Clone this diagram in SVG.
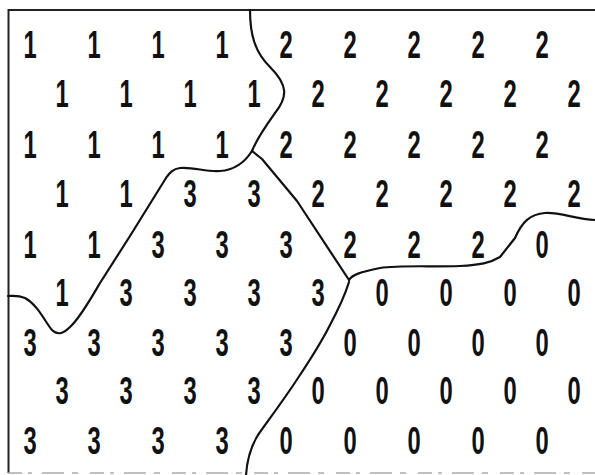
<svg xmlns="http://www.w3.org/2000/svg" width="595" height="475" viewBox="0 0 595 475">
<style>
.d{font-family:"Liberation Sans",Arial,sans-serif;font-weight:bold;font-size:38px;text-anchor:middle;fill:#111}
.b{fill:none;stroke:#111;stroke-width:2.2;stroke-linecap:round;stroke-linejoin:round}
.f{fill:none;stroke:#222;stroke-width:2}
</style>
<rect width="595" height="475" fill="#fff"/>
<g id="frame">
<path class="f" d="M8.5,473 L8.5,10 L595,10"/>
<path d="M8,473 L595,473" stroke="#aaa" stroke-width="1.5" stroke-dasharray="14 6 4 10 22 8 6 12"/>
</g>
<g id="boundaries">
<path class="b" d="M250,10 C250,35 255,52 270,67 C288,85 288,97 275,113 C265,127 257,138 252,151"/>
<path class="b" d="M252,151 C245,162 235,170 220,171 C205,172 195,167 180,168 C172,169 169,174 166,178 L130,236 L100,283 C90,300 80,318 70,327 C64,333 58,336 52,330 C45,322 38,305 25,298 C18,295 12,296 8,296"/>
<path class="b" d="M252,151 L262,159 L297,201 L349,280"/>
<path class="b" d="M349,280 C352,275 360,272 380,268 C400,265 430,267 460,266 C480,265 490,263 500,257 L515,238 C522,222 530,214 545,213 C560,212 575,219 595,220"/>
<path class="b" d="M349,282 C345,295 338,310 330,325 C320,345 310,360 298,378 C285,398 270,418 258,435 C250,448 247,460 246,475"/>
</g>
<g id="labels" transform="scale(0.625,1)">
<g id="row1">
<text class="d" x="48" y="58">1</text><text class="d" x="150.4" y="58">1</text><text class="d" x="252.8" y="58">1</text><text class="d" x="355.2" y="58">1</text><text class="d" x="457.6" y="58">2</text><text class="d" x="560" y="58">2</text><text class="d" x="662.4" y="58">2</text><text class="d" x="764.8" y="58">2</text><text class="d" x="867.2" y="58">2</text>
</g>
<g id="row2">
<text class="d" x="99.2" y="107">1</text><text class="d" x="201.6" y="107">1</text><text class="d" x="304" y="107">1</text><text class="d" x="406.4" y="107">1</text><text class="d" x="508.8" y="107">2</text><text class="d" x="611.2" y="107">2</text><text class="d" x="713.6" y="107">2</text><text class="d" x="816" y="107">2</text><text class="d" x="918.4" y="107">2</text>
</g>
<g id="row3">
<text class="d" x="48" y="158">1</text><text class="d" x="150.4" y="158">1</text><text class="d" x="252.8" y="158">1</text><text class="d" x="355.2" y="158">1</text><text class="d" x="457.6" y="158">2</text><text class="d" x="560" y="158">2</text><text class="d" x="662.4" y="158">2</text><text class="d" x="764.8" y="158">2</text><text class="d" x="867.2" y="158">2</text>
</g>
<g id="row4">
<text class="d" x="99.2" y="207">1</text><text class="d" x="201.6" y="207">1</text><text class="d" x="304" y="207">3</text><text class="d" x="406.4" y="207">3</text><text class="d" x="508.8" y="207">2</text><text class="d" x="611.2" y="207">2</text><text class="d" x="713.6" y="207">2</text><text class="d" x="816" y="207">2</text><text class="d" x="918.4" y="207">2</text>
</g>
<g id="row5">
<text class="d" x="48" y="258">1</text><text class="d" x="150.4" y="258">1</text><text class="d" x="252.8" y="258">3</text><text class="d" x="355.2" y="258">3</text><text class="d" x="457.6" y="258">3</text><text class="d" x="560" y="258">2</text><text class="d" x="662.4" y="258">2</text><text class="d" x="764.8" y="258">2</text><text class="d" x="867.2" y="258">0</text>
</g>
<g id="row6">
<text class="d" x="99.2" y="306">1</text><text class="d" x="201.6" y="306">3</text><text class="d" x="304" y="306">3</text><text class="d" x="406.4" y="306">3</text><text class="d" x="508.8" y="306">3</text><text class="d" x="611.2" y="306">0</text><text class="d" x="713.6" y="306">0</text><text class="d" x="816" y="306">0</text><text class="d" x="918.4" y="306">0</text>
</g>
<g id="row7">
<text class="d" x="48" y="356">3</text><text class="d" x="150.4" y="356">3</text><text class="d" x="252.8" y="356">3</text><text class="d" x="355.2" y="356">3</text><text class="d" x="457.6" y="356">3</text><text class="d" x="560" y="356">0</text><text class="d" x="662.4" y="356">0</text><text class="d" x="764.8" y="356">0</text><text class="d" x="867.2" y="356">0</text>
</g>
<g id="row8">
<text class="d" x="99.2" y="404">3</text><text class="d" x="201.6" y="404">3</text><text class="d" x="304" y="404">3</text><text class="d" x="406.4" y="404">3</text><text class="d" x="508.8" y="404">0</text><text class="d" x="611.2" y="404">0</text><text class="d" x="713.6" y="404">0</text><text class="d" x="816" y="404">0</text><text class="d" x="918.4" y="404">0</text>
</g>
<g id="row9">
<text class="d" x="48" y="454">3</text><text class="d" x="150.4" y="454">3</text><text class="d" x="252.8" y="454">3</text><text class="d" x="355.2" y="454">3</text><text class="d" x="457.6" y="454">0</text><text class="d" x="560" y="454">0</text><text class="d" x="662.4" y="454">0</text><text class="d" x="764.8" y="454">0</text><text class="d" x="867.2" y="454">0</text>
</g>
</g>
</svg>
